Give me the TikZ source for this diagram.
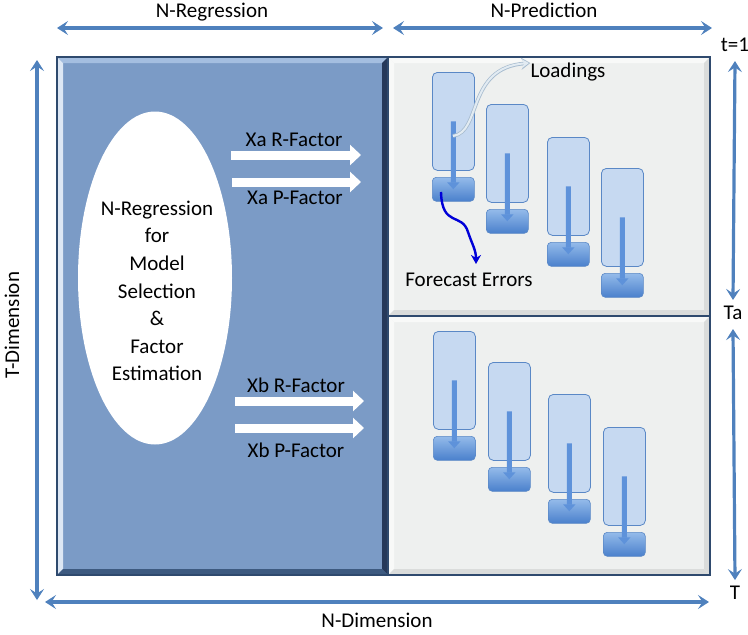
\documentclass[tikz,border=0pt]{standalone}
\usepackage{fontspec}
\setmainfont{Carlito}
\usetikzlibrary{arrows.meta,shapes.geometric}

\definecolor{regface}{HTML}{7B9BC6}
\definecolor{regtop}{HTML}{A4BEE0}
\definecolor{reghi}{HTML}{DDE7F4}
\definecolor{regdark}{HTML}{26395A}
\definecolor{regbot}{HTML}{3D5A80}
\definecolor{predface}{HTML}{EEF0EF}
\definecolor{predhi}{HTML}{F8F9F8}
\definecolor{predlow}{HTML}{DADCDB}
\definecolor{panelline}{HTML}{2F4A6E}
\definecolor{dimblue}{HTML}{4F81BD}
\definecolor{barlight}{HTML}{C6D9F1}
\definecolor{barline}{HTML}{5A88C6}
\definecolor{errtop}{HTML}{94BBEA}
\definecolor{errbot}{HTML}{4A80CC}
\definecolor{shaftblue}{HTML}{5E92DA}
\definecolor{loadcurve}{HTML}{E2EBF2}
\definecolor{loadedge}{HTML}{A7BCCF}
\definecolor{errcurve}{HTML}{0000D8}

\tikzset{
  lbl/.style={font=\fontsize{21}{24}\selectfont, inner sep=0pt},
  dimarrow/.style={draw=dimblue, line width=3.2pt,
    {Stealth[length=11pt,width=14pt,inset=4.5pt]}-{Stealth[length=11pt,width=14pt,inset=4.5pt]}},
  factorarrow/.style={draw=white, line width=9pt, -{Triangle[length=11pt,width=20pt]}},
  loadbox/.style={draw=barline, fill=barlight, rounded corners=5pt, line width=0.8pt,
    minimum width=42pt, minimum height=98pt, anchor=north west, inner sep=0pt},
  errbox/.style={draw=barline, top color=errtop, bottom color=errbot, rounded corners=4pt,
    line width=0.6pt, minimum width=42pt, minimum height=24pt, anchor=north west, inner sep=0pt},
  shaft/.style={draw=shaftblue, line width=5pt, -{Triangle[length=7pt,width=12pt]}}
}

\begin{document}
\begin{tikzpicture}[x=1pt,y=-1pt]
    \useasboundingbox (0,0) rectangle (748,635);
    % Regression panel
    \fill[regface] (57,57) rectangle (388,575);
    \fill[regtop] (57,57) -- (388,57) -- (382,63) -- (63,63) -- cycle;
    \fill[reghi] (57,57) -- (63,63) -- (63,569) -- (57,575) -- cycle;
    \fill[regdark] (388,57) -- (388,575) -- (382,569) -- (382,63) -- cycle;
    \fill[regbot] (57,575) -- (388,575) -- (382,569) -- (63,569) -- cycle;
    \draw[panelline, line width=1.2pt] (57,57) rectangle (388,575);
    % Prediction panels
    \foreach \ya/\yb in {57/316, 316/575} {
      \fill[predface] (388,\ya) rectangle (710,\yb);
      \fill[predhi] (388,\ya) -- (710,\ya) -- (704,\ya+6) -- (394,\ya+6) -- cycle;
      \fill[predhi] (388,\ya) -- (394,\ya+6) -- (394,\yb-6) -- (388,\yb) -- cycle;
      \fill[predlow] (710,\ya) -- (710,\yb) -- (704,\yb-6) -- (704,\ya+6) -- cycle;
      \fill[predlow] (388,\yb) -- (710,\yb) -- (704,\yb-6) -- (394,\yb-6) -- cycle;
      \draw[panelline, line width=1.2pt] (388,\ya) rectangle (710,\yb);
    }
    % Selection ellipse
    \node[ellipse, fill=white, minimum width=154pt, minimum height=333pt] (sel) at (155,278) {};
    \node[lbl, align=center, font=\fontsize{21}{27.6}\selectfont] (seltxt) at (157,291)
      {N-Regression\\for\\Model\\Selection\\\&\\Factor\\Estimation};
    % Factor arrows
    \node[lbl] (xar) at (294,140) {Xa R-Factor};
    \node[lbl] (xap) at (295,198) {Xa P-Factor};
    \node[lbl] (xbr) at (296,385) {Xb R-Factor};
    \node[lbl] (xbp) at (296,450) {Xb P-Factor};
    \coordinate (xarA) at (231,155); \coordinate (xarB) at (361,155);
    \coordinate (xapA) at (232,182); \coordinate (xapB) at (361,182);
    \coordinate (xbrA) at (235,401); \coordinate (xbrB) at (364,401);
    \coordinate (xbpA) at (235,428); \coordinate (xbpB) at (364,428);
    \draw[factorarrow] (xarA) -- (xarB);
    \draw[factorarrow] (xapA) -- (xapB);
    \draw[factorarrow] (xbrA) -- (xbrB);
    \draw[factorarrow] (xbpA) -- (xbpB);
    % Loadings and error blocks
    \foreach \g/\x/\y in {1/432/72, 2/486/104, 3/547/137, 4/601/168,
                          5/433/331, 6/488/362, 7/548/394, 8/603/427} {
      \node[loadbox] (la\g) at (\x,\y) {};
      \node[errbox] (eb\g) at (\x,\y+105) {};
      \draw[shaft] (la\g.center) -- (eb\g.center);
    }
    % Callouts
    \node[lbl] (loadlbl) at (568,72) {Loadings};
    \node[lbl] (errlbl) at (469,280) {Forecast Errors};
    \coordinate (ldstart) at (453,136);
    \coordinate (erstart) at (441,192);
    \draw[draw=loadedge, line width=3.6pt, -{Stealth[length=9pt,width=12pt]}]
      (ldstart) .. controls (482,132) and (466,68) .. ([yshift=9pt]loadlbl.west);
    \draw[draw=loadcurve, line width=2pt, -{Stealth[length=7pt,width=9pt]}]
      (ldstart) .. controls (482,132) and (466,68) .. ([xshift=-1.5pt,yshift=9pt]loadlbl.west);
    \draw[draw=errcurve, line width=2.4pt, -{Stealth[length=9pt,width=10pt]}]
      (erstart) .. controls (442,228) and (462,212) .. (468,232)
      .. controls (472,244) and (476,250) .. ([xshift=7pt,yshift=9pt]errlbl.north);
    % Dimension arrows
    \node[lbl] (nreg) at (212,12) {N-Regression};
    \node[lbl] (npred) at (544,10) {N-Prediction};
    \node[lbl] (ndim) at (377,620) {N-Dimension};
    \node[lbl, rotate=90] (tdim) at (12,325) {T-Dimension};
    \node[lbl] (t1) at (735,45) {t=1};
    \node[lbl] (ta) at (733,313) {Ta};
    \node[lbl] (tend) at (735,593) {T};
    \coordinate (nregL) at (57,28); \coordinate (nregR) at (383,28);
    \coordinate (npredL) at (393,28); \coordinate (npredR) at (712,28);
    \coordinate (ndimL) at (45,602); \coordinate (ndimR) at (709,602);
    \coordinate (tdimT) at (37,60); \coordinate (tdimB) at (37,600);
    \draw[dimarrow] (nregL) -- (nregR);
    \draw[dimarrow] (npredL) -- (npredR);
    \draw[dimarrow] (ndimL) -- (ndimR);
    \draw[dimarrow] (tdimT) -- (tdimB);
    \draw[dimarrow] ([yshift=-9pt]t1.south) -- ([yshift=6pt]ta.north);
    \draw[dimarrow] ([yshift=-9pt]ta.south) -- ([yshift=6pt]tend.north);
\end{tikzpicture}
\end{document}
